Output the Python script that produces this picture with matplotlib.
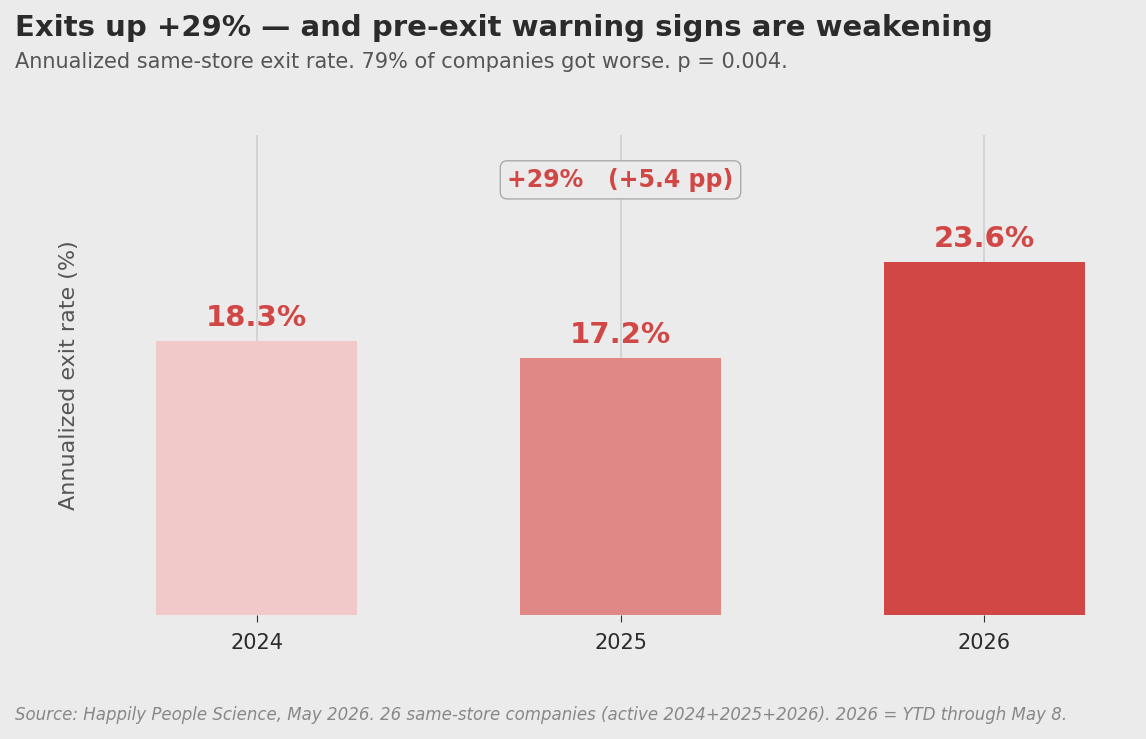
import matplotlib.pyplot as plt

years = ["2024", "2025", "2026"]
rates = [18.3, 17.2, 23.6]
bar_colors = ["#f2c9c9", "#e08886", "#d14745"]
red = "#d14745"
bg = "#ebebeb"

fig = plt.figure(figsize=(11.46, 7.39), dpi=100, facecolor=bg)
ax = fig.add_axes([110 / 1146, 1 - 615 / 739, (1131 - 110) / 1146, 480 / 739], facecolor=bg)

x = range(len(years))
ax.bar(x, rates, width=0.55, color=bar_colors, zorder=2)
for xi, v in zip(x, rates):
    ax.text(xi, v + 0.6, f"{v:.1f}%", ha="center", va="bottom",
            fontsize=21, fontweight="bold", color=red, zorder=3)

ax.set_ylim(0, 32.1)
ax.set_xticks(list(x))
ax.set_xticklabels(years, fontsize=15, color="#2b2b2b")
ax.set_yticks([])
ax.grid(axis="x", color="#d0d0d0", linewidth=1.2, zorder=0)
ax.tick_params(axis="x", length=5, color="#333333", pad=8)
for s in ax.spines.values():
    s.set_visible(False)
ax.set_ylabel("Annualized exit rate (%)", fontsize=16, color="#555555", labelpad=22)

ax.text(1, 29.1, "+29%   (+5.4 pp)", ha="center", va="center", fontsize=17,
        fontweight="bold", color=red, zorder=4,
        bbox=dict(boxstyle="round,pad=0.3", facecolor=bg, edgecolor="#aaaaaa"))

fig.text(15 / 1146, 1 - 28 / 739, "Exits up +29% — and pre-exit warning signs are weakening",
         fontsize=21, fontweight="bold", color="#2b2b2b", va="center")
fig.text(15 / 1146, 1 - 62 / 739,
         "Annualized same-store exit rate. 79% of companies got worse. p = 0.004.",
         fontsize=15, color="#555555", va="center")
fig.text(15 / 1146, 1 - 715 / 739,
         "Source: Happily People Science, May 2026. 26 same-store companies (active 2024+2025+2026). 2026 = YTD through May 8.",
         fontsize=12, style="italic", color="#888888", va="center")

fig.savefig("out.png", dpi=100, facecolor=bg)
